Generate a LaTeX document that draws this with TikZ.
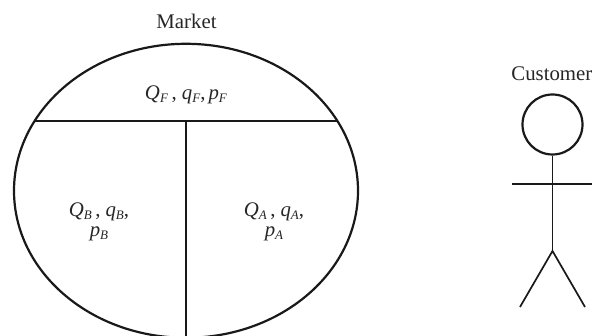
\documentclass[tikz,border=0pt]{standalone}
\usepackage{fontspec}
\setmainfont{Liberation Serif}
\usetikzlibrary{shapes.geometric}
\newcommand{\vv}[2]{\textit{#1}\raisebox{-3pt}{\fontsize{13}{13}\selectfont\textit{#2}}}
\tikzset{
  lab/.style={font=\fontsize{20.8}{20.8}\selectfont, text=black!85, inner sep=0pt, align=center},
  thick line/.style={draw=black!90, line width=2.2pt},
  thin line/.style={draw=black!90, line width=1.3pt},
}
\begin{document}
\begin{tikzpicture}[x=1pt,y=-1pt]
\useasboundingbox (0,0) rectangle (592,336);
\clip (0,0) rectangle (592,336);
% market
\node[ellipse,thick line,minimum width=344pt,minimum height=294pt,inner sep=0pt] (marketshape) at (186,190.8) {};
\coordinate (hl) at (35,121);
\coordinate (hr) at (337,121);
\coordinate (vt) at (186,121);
\coordinate (vb) at (186,336);
\draw[thin line] (hl) -- (hr);
\draw[thin line] (vt) -- (vb);
\node[lab] (market) at (186.5,21) {Market};
\node[lab,anchor=east] (customer) at (592.5,74) {Customer};
\node[lab] (qf) at (186,95) {\vv{Q}{F}\,, \vv{q}{F},\kern3pt\vv{p}{F}};
\node[lab,text width=90pt] (qb) at (99,222) {\vv{Q}{B}\,,\kern5pt\vv{q}{B},\\[-1pt]\vv{p}{B}};
\node[lab,text width=90pt] (qa) at (274,222) {\vv{Q}{A}\,,\kern5pt\vv{q}{A},\\[-1pt]\vv{p}{A}};
% customer
\node[circle,thick line,minimum size=60pt,inner sep=0pt] (head) at (552.5,124.5) {};
\coordinate (hip) at (552.5,251);
\coordinate (al) at (512,184);
\coordinate (ar) at (592,184);
\coordinate (ll) at (520,307);
\coordinate (lr) at (585,307);
\draw[thin line] (head.south) -- (hip);
\draw[thin line] (al) -- (ar);
\draw[thick line,line width=1.7pt] (ll) -- (hip) -- (lr);
\end{tikzpicture}
\end{document}
